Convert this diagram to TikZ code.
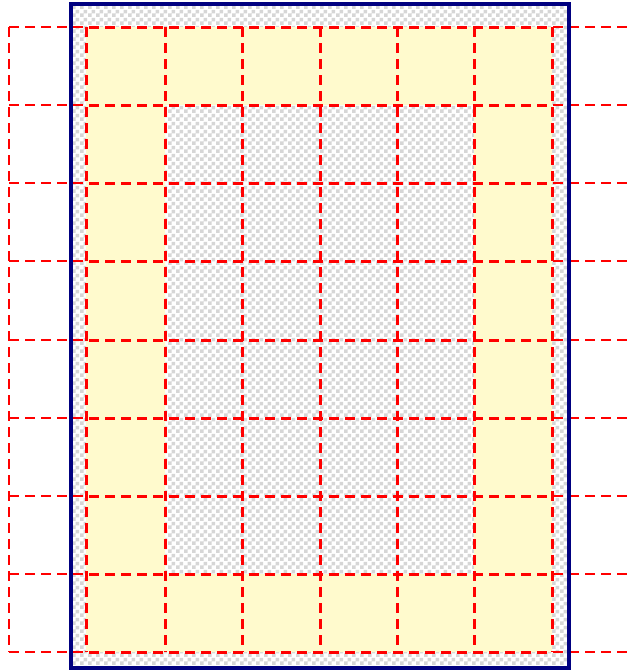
\documentclass[tikz,border=0pt]{standalone}
\usepackage{xcolor}
\definecolor{framenavy}{RGB}{0,0,128}
\definecolor{gridred}{RGB}{255,0,0}
\definecolor{padyellow}{RGB}{255,250,205}
\usepackage{tikz}
\usetikzlibrary{patterns}
\pgfdeclarepatternformonly{checks}{\pgfpointorigin}{\pgfqpoint{8pt}{8pt}}{\pgfqpoint{8pt}{8pt}}{%
  \pgfpathrectangle{\pgfpointorigin}{\pgfqpoint{4pt}{4pt}}%
  \pgfpathrectangle{\pgfqpoint{4pt}{4pt}}{\pgfqpoint{4pt}{4pt}}%
  \pgfusepath{fill}}

\begin{document}
\begin{tikzpicture}[x=1pt, y=-1pt,
    checkfill/.style={fill=white, postaction={pattern=checks, pattern color=black!16}},
    pad/.style={fill=padyellow, even odd rule},
    gline/.style={gridred, line width=2.4pt, dash pattern=on 10pt off 6pt},
    gthick/.style={gline, line width=3pt},
    border/.style={framenavy, line width=4.5pt}
  ]
    \useasboundingbox (0,0) rectangle (627,672);
    \clip (0,0) rectangle (627,672);
    % image area and padding
    \fill[checkfill] (71,4) rectangle (569,668);
    \fill[pad] (86,27) rectangle (552,652) (165,105) rectangle (474,574);
    % cell grid
    \foreach \gy in {27,105,183,261,340,418,496,574,652}{
      \draw[gline] (9,\gy) -- (632,\gy);
      \draw[gthick, dash phase=13pt] (86,\gy) -- (552,\gy);
    }
    \draw[gline] (9,27) -- (9,652);
    \foreach \gx in {86,165,242,320,397,474,552}
      \draw[gthick] (\gx,27) -- (\gx,652);
    \draw[border] (71,4) rectangle (569,668);
  \end{tikzpicture}
\end{document}
